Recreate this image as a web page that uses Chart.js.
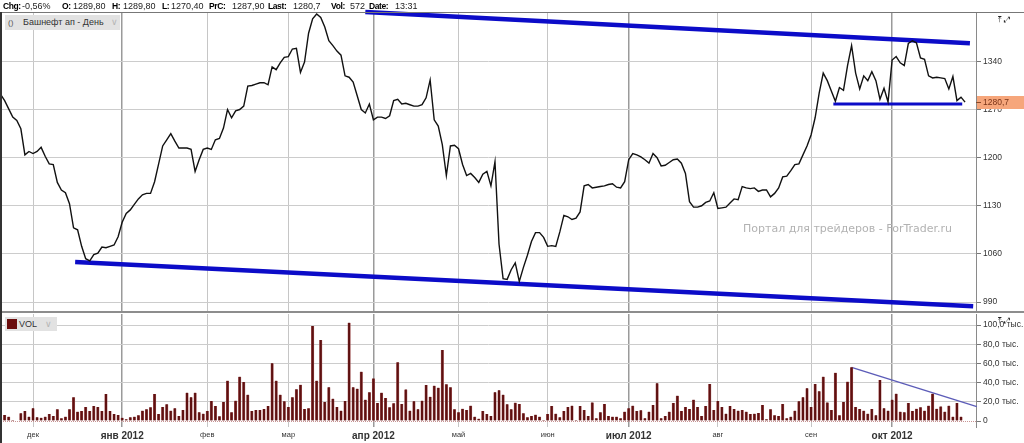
<!DOCTYPE html>
<html>
<head>
<meta charset="utf-8">
<script src="https://cdn.jsdelivr.net/npm/chart.js@4.4.0/dist/chart.umd.min.js"></script>
<style>
  body { margin:0; background:#fff; width:1024px; height:443px; overflow:hidden; position:relative; font-family:"Liberation Sans", Arial, sans-serif; }
  canvas { position:absolute; left:0; }
  #priceCanvas { top:0; }
  #volCanvas { top:313px; }
  .hdr { position:absolute; top:1px; font-size:9px; color:#222; white-space:nowrap; line-height:11px; }
  .hdr.b { font-weight:bold; color:#000; font-size:8.5px; letter-spacing:-0.4px; }
  .line { position:absolute; }
  .tag { position:absolute; background:#e2e2e2; height:15px; font-size:9px; color:#333; line-height:15px; white-space:nowrap; }
  .chev { color:#b5b5b5; font-size:9px; position:absolute; }
  .icons { position:absolute; left:998px; font-family:"DejaVu Sans"; font-size:8px; color:#222; letter-spacing:2px; }
  #wm { position:absolute; left:743px; top:222px; font-family:"DejaVu Sans"; font-size:11px; color:#b2b2b2; white-space:nowrap; }
</style>
</head>
<body>
<canvas id="priceCanvas" width="1024" height="313"></canvas>
<canvas id="volCanvas" width="1024" height="130"></canvas>

<!-- header strip -->
<span class="hdr b" style="left:3px">Chg:</span><span class="hdr" style="left:22px">-0,56%</span>
<span class="hdr b" style="left:62px">O:</span><span class="hdr" style="left:73px">1289,80</span>
<span class="hdr b" style="left:112px">H:</span><span class="hdr" style="left:123px">1289,80</span>
<span class="hdr b" style="left:162px">L:</span><span class="hdr" style="left:171px">1270,40</span>
<span class="hdr b" style="left:209px">PrC:</span><span class="hdr" style="left:232px">1287,90</span>
<span class="hdr b" style="left:268px">Last:</span><span class="hdr" style="left:293px">1280,7</span>
<span class="hdr b" style="left:331px">Vol:</span><span class="hdr" style="left:350px">572</span>
<span class="hdr b" style="left:369px">Date:</span><span class="hdr" style="left:395px">13:31</span>

<div class="line" style="left:0;top:12px;width:1024px;height:1px;background:#777"></div>
<div class="line" style="left:0;top:311px;width:1024px;height:2px;background:#8d8d8d"></div>
<div class="line" style="left:0;top:12px;width:2px;height:431px;background:#333"></div>

<div class="tag" style="left:5px;top:15px;width:115px">
  <span style="position:absolute;left:3px;font-size:8px;color:#555">()</span>
  <span style="position:absolute;left:18px">Башнефт ап - День</span>
  <span class="chev" style="left:106px">∨</span>
</div>
<div class="tag" style="left:5px;top:317px;width:52px;height:14px;line-height:14px;font-size:9px">
  <span style="position:absolute;left:2px;top:2px;width:10px;height:10px;background:#6a0c0c"></span>
  <span style="position:absolute;left:14px">VOL</span>
  <span class="chev" style="left:40px">∨</span>
</div>

<div class="icons" style="top:15px">⤒⤢</div>
<div class="icons" style="top:316px">⤒⤢</div>
<div id="wm">Портал для трейдеров - ForTrader.ru</div>

<script>
// daily closes, Nov 2011 .. Oct 2012
const closes = [
  1292, 1283, 1271, 1259, 1254, 1242, 1204, 1209, 1206, 1209,
  1215, 1202, 1191, 1190, 1164, 1153, 1149, 1133, 1098, 1095,
  1071, 1053, 1050, 1059, 1061, 1070, 1069, 1071, 1073, 1085,
  1106, 1119, 1124, 1132, 1140, 1146, 1148, 1148, 1165, 1191,
  1217, 1226, 1235, 1224, 1214, 1214, 1214, 1212, 1180, 1197,
  1212, 1214, 1212, 1226, 1228, 1243, 1270, 1258, 1268, 1270,
  1275, 1304, 1305, 1307, 1309, 1309, 1306, 1332, 1328, 1338,
  1346, 1347, 1358, 1359, 1324, 1339, 1381, 1402, 1409, 1404,
  1390, 1370, 1363, 1355, 1349, 1319, 1317, 1310, 1290, 1270,
  1265, 1278, 1255, 1259, 1259, 1257, 1261, 1283, 1285, 1278,
  1279, 1277, 1275, 1275, 1277, 1287, 1313, 1255, 1246, 1219,
  1174, 1217, 1218, 1213, 1190, 1174, 1177, 1171, 1164, 1176,
  1180, 1159, 1194, 1074, 1024, 1023, 1037, 1047, 1020, 1040,
  1058, 1078, 1091, 1091, 1084, 1071, 1072, 1071, 1092, 1116,
  1114, 1110, 1112, 1121, 1159, 1161, 1156, 1157, 1158, 1159,
  1161, 1162, 1157, 1156, 1165, 1197, 1206, 1204, 1201, 1197,
  1192, 1206, 1200, 1188, 1189, 1193, 1197, 1198, 1192, 1177,
  1136, 1128, 1128, 1130, 1135, 1137, 1149, 1126, 1127, 1128,
  1134, 1140, 1139, 1158, 1156, 1155, 1156, 1151, 1153, 1153,
  1143, 1148, 1156, 1172, 1173, 1181, 1190, 1191, 1204, 1217,
  1233, 1258, 1294, 1323, 1312, 1297, 1282, 1302, 1298, 1334,
  1363, 1323, 1300, 1319, 1312, 1325, 1312, 1285, 1301, 1281,
  1342, 1347, 1338, 1334, 1366, 1370, 1367, 1345, 1343, 1319,
  1316, 1317, 1316, 1315, 1300, 1318, 1283, 1288, 1280.7
];

// daily volume, thousands
const volumesK = [
  3.8, 6.2, 4.5, 1, 0.5, 8, 10.4, 4.5, 13.2, 3.8,
  3.4, 4.5, 7.3, 5.2, 12.2, 2.8, 4.5, 12.2, 24.7, 9.7,
  10.4, 14.6, 10.4, 15.6, 14.6, 10.4, 28.1, 10.4, 7.3, 6.3,
  3.4, 1.7, 3.8, 4.5, 5.9, 10.8, 12.2, 14.2, 28.1, 7.3,
  14.6, 17.4, 10.8, 13.2, 5.2, 11.5, 29.5, 24.7, 29.5, 9,
  7.6, 10.4, 20.8, 15.6, 4.9, 19.8, 42, 9, 21.2, 46.2,
  40.6, 27.4, 10.4, 11.5, 11.5, 12.5, 15.6, 60.1, 42, 27.4,
  20.5, 14.6, 24.7, 33, 37.8, 12.5, 13.2, 99, 42, 84.4,
  19.8, 35.1, 23.3, 14.6, 10.8, 20.8, 102.4, 35.1, 33.7, 51.4,
  22.2, 29.9, 44.4, 18.8, 29.5, 23.9, 14.2, 18.4, 61.1, 17.7,
  32.9, 10.8, 20.5, 12.2, 21.2, 37.5, 25.3, 36.8, 34.7, 74,
  38.2, 35.1, 12.2, 9, 12.8, 11.5, 16, 4.5, 2.4, 10.4,
  7.3, 5.2, 29.9, 32, 27.4, 17.4, 12.2, 19.1, 17.7, 8,
  3.8, 5.2, 6.6, 4.5, 1, 7.3, 15.6, 7.6, 3.8, 10.4,
  14.6, 16, 1, 15.6, 11.5, 5.2, 19.4, 2.8, 9, 17.7,
  5.2, 4.5, 4.5, 2.8, 9.7, 13.2, 16, 10.4, 11.1, 2.8,
  9.7, 16.7, 39.2, 2.8, 5.2, 9.7, 18.8, 26.4, 10.4, 14.6,
  12.5, 22.2, 14.6, 5.2, 15.6, 38.5, 11.5, 20.8, 14.6, 7.6,
  15.6, 12.5, 10.8, 11.5, 9.7, 7.3, 7.6, 8.3, 16.7, 1.7,
  12.2, 5.9, 5.2, 17.7, 2.8, 4.5, 10.8, 20.5, 24.7, 34,
  14.6, 38.5, 30.9, 46.2, 19.4, 11.5, 50.3, 5.9, 19.8, 41,
  55.9, 14.6, 12.5, 10.8, 7.6, 12.5, 5.9, 42.7, 13.2, 10.8,
  22.2, 28.5, 9.7, 9, 18.8, 10.4, 12.8, 14.2, 10.8, 16,
  28.5, 12.8, 15.2, 9.7, 16, 4.5, 18.8, 4.5, 0.572
];

// bar index where each month starts
const monthStarts = [8, 30, 51, 71, 92, 113, 135, 155, 177, 200, 220];
const monthLabels = ["дек", "янв 2012", "фев", "мар", "апр 2012", "май", "июн", "июл 2012", "авг", "сен", "окт 2012"];

const priceTicks = [990, 1060, 1130, 1200, 1270, 1340];
const volTicks = [0, 20, 40, 60, 80, 100];

// hand drawn lines, [index, value]
const upperTrend = [[90, 1412], [239.2, 1366.4]];
const lowerTrend = [[18.4, 1048.4], [240, 983.9]];
const supportLine = [[205.5, 1277.9], [237.3, 1277.9]];
const volTrend = [[210, 55.9], [240.9, 14.9]];

Chart.defaults.font.family = '"Liberation Sans", Arial, sans-serif';
Chart.defaults.color = "#333";

const toXY = arr => arr.map(p => ({ x: p[0], y: p[1] }));
const isQuarter = v => monthLabels[monthStarts.indexOf(v)].includes("2012");

function monthGrid() {
    return {
        drawTicks: false,
        color: ctx => (ctx.tick && isQuarter(ctx.tick.value)) ? "#9a9a9a" : "#c6c6c6",
        lineWidth: ctx => (ctx.tick && isQuarter(ctx.tick.value)) ? 1.5 : 1
    };
}

// fixed axis sizes so both panels line up
function fixWidth(s) {
    s.width = 48;
    s.paddingTop = 0;
    s.paddingBottom = 0;
}

const xMin = 0.1, xMax = 240.7;

/* ------------------ PRICE PANEL ------------------ */
const lastLabel = {
    id: "lastLabel",
    afterDraw(chart) {
        const ys = chart.scales.y;
        const last = closes[closes.length - 1];
        const y = Math.round(ys.getPixelForValue(last));
        const ctx = chart.ctx;
        ctx.save();
        ctx.fillStyle = "#f6a67b";
        ctx.fillRect(ys.left + 1, y - 6, chart.width - ys.left, 13);
        ctx.strokeStyle = "#8a4a2a";
        ctx.beginPath();
        ctx.moveTo(ys.left, y + 0.5);
        ctx.lineTo(ys.left + 5, y + 0.5);
        ctx.stroke();
        ctx.fillStyle = "#7a3418";
        ctx.font = '8.5px "Liberation Sans"';
        ctx.textBaseline = "middle";
        ctx.fillText(last.toFixed(1).replace(".", ","), ys.left + 7, y + 0.5);
        ctx.restore();
    }
};

new Chart(document.getElementById("priceCanvas"), {
    type: "line",
    data: {
        datasets: [
            {
                data: closes.map((v, i) => ({ x: i, y: v })),
                borderColor: "#111",
                borderWidth: 1.4,
                pointRadius: 0,
                tension: 0
            },
            { data: toXY(upperTrend), borderColor: "#0c0cc8", borderWidth: 4.5, pointRadius: 0, clip: false },
            { data: toXY(lowerTrend), borderColor: "#0c0cc8", borderWidth: 4.5, pointRadius: 0, clip: false },
            { data: toXY(supportLine), borderColor: "#0c0cc8", borderWidth: 3, pointRadius: 0, clip: false }
        ]
    },
    options: {
        responsive: false,
        animation: false,
        devicePixelRatio: 1,
        layout: { padding: { left: 1, top: 13, right: 0, bottom: 1 } },
        plugins: { legend: { display: false }, tooltip: { enabled: false } },
        scales: {
            x: {
                type: "linear",
                min: xMin,
                max: xMax,
                offset: false,
                afterBuildTicks: s => { s.ticks = monthStarts.map(v => ({ value: v })); },
                afterFit: s => { s.height = 0; s.paddingLeft = 0; s.paddingRight = 0; },
                ticks: { display: false },
                grid: monthGrid(),
                border: { display: false }
            },
            y: {
                position: "right",
                min: 975.5,
                max: 1410.4,
                afterBuildTicks: s => { s.ticks = priceTicks.map(v => ({ value: v })); },
                afterFit: fixWidth,
                ticks: { font: { size: 8.5 }, padding: 2, color: "#333", callback: v => String(v) },
                grid: { color: "#cccccc", tickLength: 5, tickColor: "#777" },
                border: { display: true, color: "#8a8a8a" }
            }
        }
    },
    plugins: [lastLabel]
});

/* ------------------ VOLUME PANEL ------------------ */
const zeroLine = {
    id: "zeroLine",
    beforeDatasetsDraw(chart) {
        const y = Math.round(chart.scales.y.getPixelForValue(0)) + 0.5;
        const ctx = chart.ctx;
        ctx.save();
        ctx.strokeStyle = "#c99494";
        ctx.setLineDash([1, 1]);
        ctx.beginPath();
        ctx.moveTo(chart.chartArea.left, y);
        ctx.lineTo(chart.chartArea.right, y);
        ctx.stroke();
        ctx.restore();
    }
};

new Chart(document.getElementById("volCanvas"), {
    type: "bar",
    data: {
        datasets: [
            {
                data: volumesK.map((v, i) => ({ x: i, y: v })),
                backgroundColor: "#5e1010",
                borderColor: "#a55a5a",
                borderWidth: { left: 0.6, right: 0.6, top: 0, bottom: 0 },
                barThickness: 2.6
            },
            {
                type: "line",
                data: toXY(volTrend),
                borderColor: "#5c5cb8",
                borderWidth: 1.4,
                pointRadius: 0,
                clip: false
            }
        ]
    },
    options: {
        responsive: false,
        animation: false,
        devicePixelRatio: 1,
        layout: { padding: { left: 1, top: 1, right: 0, bottom: 0 } },
        plugins: { legend: { display: false }, tooltip: { enabled: false } },
        scales: {
            x: {
                type: "linear",
                min: xMin,
                max: xMax,
                offset: false,
                afterBuildTicks: s => { s.ticks = monthStarts.map(v => ({ value: v })); },
                afterFit: s => { s.height = 16; s.paddingLeft = 0; s.paddingRight = 0; },
                ticks: {
                    autoSkip: false,
                    maxRotation: 0,
                    padding: 3,
                    color: "#333",
                    font: ctx => (ctx.tick && isQuarter(ctx.tick.value))
                        ? { size: 10, weight: "bold" }
                        : { size: 7.5 },
                    callback: v => monthLabels[monthStarts.indexOf(v)]
                },
                grid: Object.assign(monthGrid(), { offset: false }),
                border: { display: false }
            },
            y: {
                position: "right",
                min: -6.25,
                max: 111.46,
                afterBuildTicks: s => { s.ticks = volTicks.map(v => ({ value: v })); },
                afterFit: fixWidth,
                ticks: {
                    font: { size: 8.5 },
                    padding: 2,
                    color: "#333",
                    callback: v => v === 0 ? "0" : v.toFixed(1).replace(".", ",") + " тыс."
                },
                grid: {
                    color: ctx => (ctx.tick && ctx.tick.value === 0) ? "rgba(0,0,0,0)" : "#cccccc",
                    tickLength: 5,
                    tickColor: "#777"
                },
                border: { display: true, color: "#8a8a8a" }
            }
        }
    },
    plugins: [zeroLine]
});
</script>
</body>
</html>
